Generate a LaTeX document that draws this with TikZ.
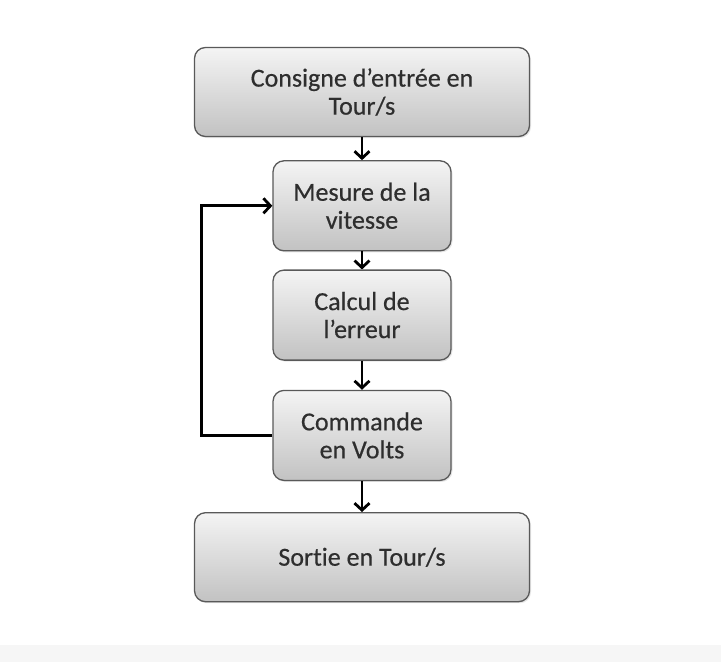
\documentclass[tikz,border=0pt]{standalone}
\usepackage{fontspec}
\setmainfont{Carlito}[Ligatures=NoCommon, FakeBold=0.5]
\usetikzlibrary{shapes,arrows,arrows.meta,positioning,shadows}
\definecolor{boxtop}{HTML}{F4F4F4}
\definecolor{boxbot}{HTML}{C2C2C2}
\definecolor{boxline}{HTML}{595959}
\definecolor{txtgray}{HTML}{2E2E2E}

\begin{document}
\begin{tikzpicture}[
    box/.style={rectangle, rounded corners=11pt, draw=boxline, line width=1.3pt,
        top color=boxtop, bottom color=boxbot, align=center, text=txtgray,
        font=\fontsize{26}{28}\selectfont,
        drop shadow={opacity=0.2, shadow xshift=1.5pt, shadow yshift=-1.5pt}},
    wide/.style={box, minimum width=335pt, minimum height=89pt},
    narrow/.style={box, minimum width=178pt, minimum height=90pt},
    flow/.style={-{Straight Barb[length=7pt,width=15pt]}, line width=2.8pt}
]
    \useasboundingbox (0,0) rectangle (721pt,-662pt);
    \fill[gray!7] (0,-645pt) rectangle (721pt,-662pt);

    \node[wide] (consigne) at (362pt,-92pt) {Consigne d’entrée en\\Tour/s};
    \node[narrow, below=23pt of consigne] (mesure) {Mesure de la\\vitesse};
    \node[narrow, below=18pt of mesure] (calcul) {Calcul de\\l’erreur};
    \node[narrow, below=29pt of calcul] (commande) {Commande\\en Volts};
    \node[wide, below=31pt of commande] (sortie) {Sortie en Tour/s};

    \draw[flow] (consigne) -- (mesure);
    \draw[flow] (mesure) -- (calcul);
    \draw[flow] (calcul) -- (commande);
    \draw[flow] (commande) -- (sortie);
    \draw[flow] (commande.west) -- ++(-71pt,0) |- (mesure.west);
\end{tikzpicture}
\end{document}
